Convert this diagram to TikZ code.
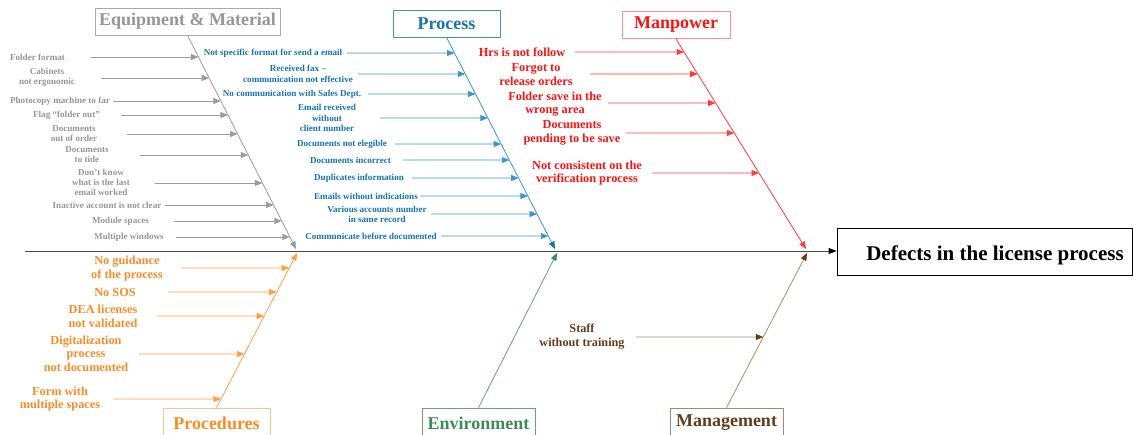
\documentclass[tikz,border=0pt]{standalone}
\usepackage{fontspec}
\setmainfont{Liberation Serif}
\usetikzlibrary{arrows.meta}

\definecolor{eqtext}{RGB}{150,150,150}
\definecolor{eqline}{RGB}{155,155,155}
\definecolor{eqbox}{RGB}{170,170,170}
\definecolor{prtext}{RGB}{20,115,180}
\definecolor{prline}{RGB}{60,150,205}
\definecolor{prbox}{RGB}{70,145,200}
\definecolor{mptext}{RGB}{250,20,20}
\definecolor{mpline}{RGB}{255,60,60}
\definecolor{mpbox}{RGB}{245,150,150}
\definecolor{potext}{RGB}{250,140,40}
\definecolor{poline}{RGB}{255,160,70}
\definecolor{pobox}{RGB}{250,195,150}
\definecolor{entext}{RGB}{60,140,90}
\definecolor{enline}{RGB}{100,165,115}
\definecolor{mgtext}{RGB}{100,60,25}
\definecolor{mgline}{RGB}{170,140,115}
\definecolor{mgbox}{RGB}{165,135,115}
\definecolor{spine}{RGB}{75,75,75}

\tikzset{
  hdr/.style={draw, line width=0.8pt, font=\bfseries\fontsize{18}{20}\selectfont,
    inner sep=0pt, minimum height=27pt},
  small/.style={font=\bfseries\fontsize{9.1}{10.3}\selectfont, align=center, inner sep=0pt},
  large/.style={font=\bfseries\fontsize{12.3}{13.6}\selectfont, align=center, inner sep=0pt},
  bone/.style={line width=0.8pt},
  causeline/.style={line width=0.8pt},
  tri/.style={-{Triangle[length=7.5pt,width=6pt]}},
}

% one cause: label node, arrow start, arrow tip on its category bone
\newcommand\cause[8]{%
  \node[#2] (#1) at (#4) {#5};
  \coordinate (#1-s) at (#7,#6);
  \coordinate (#1-e) at (intersection of #8 and 0,#6--100,#6);
  \draw[causeline,tri,#3] (#1-s) -- (#1-e);
}

\begin{document}
\begin{tikzpicture}[x=1pt,y=-1pt]
\useasboundingbox (0,0) rectangle (1133,434);

% effect box and spine
\node[draw=black, line width=0.8pt, minimum width=295pt, minimum height=47pt, inner sep=0pt]
  (effect) at (984.5,251.5) {};
\node[font=\bfseries\fontsize{21}{23}\selectfont, inner sep=0pt] (effecttxt) at (995,255.5)
  {Defects in the license process};
\coordinate (spinestart) at (25,251);
\draw[spine, line width=1pt, -{Triangle[length=8pt,width=6pt,color=black]}]
  (spinestart) -- (effect.west |- spinestart);

% category boxes
\node[hdr, draw=eqbox, text=eqtext, minimum width=185pt] (eq) at (187.5,21.5) {Equipment \& Material};
\node[hdr, draw=prbox, text=prtext, minimum width=107pt] (pr) at (446.5,23.5) {Process};
\node[hdr, draw=mpbox, text=mptext, minimum width=108pt] (mp) at (676,25) {Manpower};
\node[hdr, draw=pobox, text=potext, minimum width=107pt, minimum height=30pt] (po) at (216.5,423) {Procedures};
\node[hdr, draw=enline, text=entext, minimum width=113pt, minimum height=30pt] (en) at (478.5,423) {Environment};
\node[hdr, draw=mgbox, text=mgtext, minimum width=113pt, minimum height=30pt] (mg) at (726.5,423) {Management};

% junctions on the spine
\coordinate (eqB) at (296,249);
\coordinate (poB) at (297,253);
\coordinate (prB) at (555,249);
\coordinate (enB) at (557,253);
\coordinate (mpB) at (806,249);
\coordinate (mgB) at (807,253);

% bones
\draw[bone, eqline, tri] (eq.south) -- (eqB);
\draw[bone, prline, -{Triangle[length=7.5pt,width=6pt,color=prtext]}] (pr.south) -- (prB);
\draw[bone, mpline, tri] (mp.south) -- (mpB);
\draw[bone, poline, tri] (po.north) -- (poB);
\draw[bone, enline, -{Triangle[length=7.5pt,width=6pt,color=entext]}] (en.north) -- (enB);
\draw[bone, mgline, -{Triangle[length=7.5pt,width=6pt,color=mgtext]}] (mg.north) -- (mgB);

% Equipment & Material
\cause{e1}{small,text=eqtext}{eqline}{37.5,57}{Folder format}{57}{91}{eq.south--eqB}
\cause{e2}{small,text=eqtext}{eqline}{47,77.5}{Cabinets\\not ergonomic}{78}{101}{eq.south--eqB}
\cause{e3}{small,text=eqtext}{eqline}{60,101}{Photocopy machine to far}{101}{113}{eq.south--eqB}
\cause{e4}{small,text=eqtext}{eqline}{66.5,115}{Flag “folder out”}{115}{121}{eq.south--eqB}
\cause{e5}{small,text=eqtext}{eqline}{74,133.5}{Documents\\out of order}{134}{127}{eq.south--eqB}
\cause{e6}{small,text=eqtext}{eqline}{87,154.5}{Documents\\to tide}{155}{140}{eq.south--eqB}
\cause{e7}{small,text=eqtext}{eqline}{101,182.5}{Don’t know\\what is the last\\email worked}{183}{155}{eq.south--eqB}
\cause{e8}{small,text=eqtext}{eqline}{107,205}{Inactive account is not clear}{205}{165}{eq.south--eqB}
\cause{e9}{small,text=eqtext}{eqline}{120.5,221}{Module spaces}{221}{174}{eq.south--eqB}
\cause{e10}{small,text=eqtext}{eqline}{129,237}{Multiple windows}{237}{176}{eq.south--eqB}

% Process
\cause{p1}{small,text=prtext}{prline}{273,53}{Not specific format for send a email}{53}{347}{pr.south--prB}
\cause{p2}{small,text=prtext}{prline}{298,74}{Received fax –\\communication not effective}{74}{358}{pr.south--prB}
\cause{p3}{small,text=prtext}{prline}{292,94}{No communication with Sales Dept.}{94}{368}{pr.south--prB}
\cause{p4}{small,text=prtext}{prline}{327,118}{Email received\\without\\client number}{118}{380}{pr.south--prB}
\cause{p5}{small,text=prtext}{prline}{342,144}{Documents not elegible}{144}{395}{pr.south--prB}
\cause{p6}{small,text=prtext}{prline}{350.5,160}{Documents incorrect}{160}{403}{pr.south--prB}
\cause{p7}{small,text=prtext}{prline}{359,178}{Duplicates information}{178}{412}{pr.south--prB}
\cause{p8}{small,text=prtext}{prline}{366,196}{Emails without indications}{196}{420}{pr.south--prB}
\cause{p9}{small,text=prtext}{prline}{377,214.5}{Various accounts number\\in same record}{214}{431}{pr.south--prB}
\cause{p10}{small,text=prtext}{prline}{371,236}{Communicate before documented}{236}{441}{pr.south--prB}

% Manpower
\cause{m1}{large,text=mptext}{mpline}{522,52}{Hrs is not follow}{52}{575}{mp.south--mpB}
\cause{m2}{large,text=mptext}{mpline}{536,74.5}{Forgot to\\release orders}{74}{590}{mp.south--mpB}
\cause{m3}{large,text=mptext}{mpline}{555,104}{Folder save in the\\wrong area}{103}{608}{mp.south--mpB}
\cause{m4}{large,text=mptext}{mpline}{572,133}{Documents\\pending to be save}{133}{626}{mp.south--mpB}
\cause{m5}{large,text=mptext}{mpline}{587,173}{Not consistent on the\\verification process}{173}{652}{mp.south--mpB}

% Procedures
\cause{r1}{large,text=potext}{poline}{127,268.5}{No guidance\\of the process}{268}{181}{po.north--poB}
\cause{r2}{large,text=potext}{poline}{115,292}{No SOS}{292}{168}{po.north--poB}
\cause{r3}{large,text=potext}{poline}{103,316}{DEA licenses\\not validated}{316}{157}{po.north--poB}
\cause{r4}{large,text=potext}{poline}{86,353.5}{Digitalization\\process\\not documented}{354}{139}{po.north--poB}
\cause{r5}{large,text=potext}{poline}{60,399}{Form with\\multiple spaces}{399}{114}{po.north--poB}

% Management
\cause{g1}{font=\bfseries\fontsize{12.2}{14.8}\selectfont, align=center, inner sep=0pt, text=mgtext}%
  {mgline,-{Triangle[length=7.5pt,width=6pt,color=mgtext]}}{582,336.5}{Staff\\without training}{337}{636}{mg.north--mgB}

\end{tikzpicture}
\end{document}
